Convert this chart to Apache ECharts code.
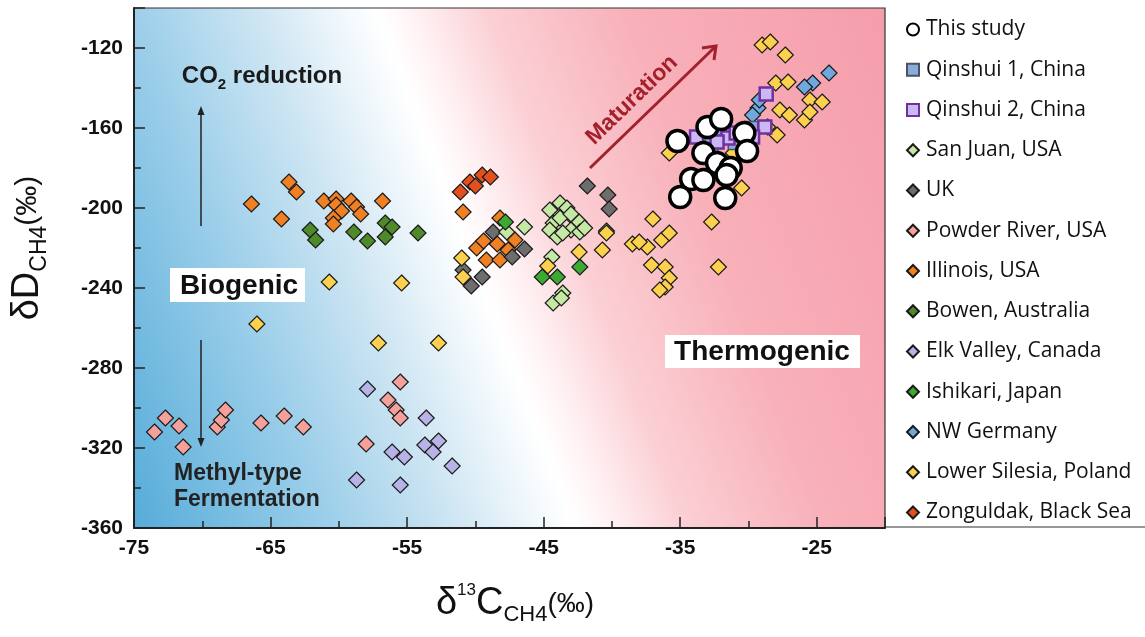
<!DOCTYPE html>
<html><head><meta charset="utf-8">
<script src="https://cdn.jsdelivr.net/npm/echarts@6/dist/echarts.min.js"></script>
<style>html,body{margin:0;padding:0;background:#fff}#c{width:1145px;height:637px}</style>
</head><body><div id="c"></div>
<script>
const xTicks = [-75, -65, -55, -45, -35, -25];
const yTicks = [-360, -320, -280, -240, -200, -160, -120];

const thisStudy = [[-35.2,-166.5],[-33.0,-159.5],[-32.0,-155.5],[-30.3,-162.5],[-30.1,-171.5],[-33.3,-172.5],[-32.3,-177.5],[-31.3,-180],[-31.6,-183.5],[-34.2,-185.5],[-33.3,-186],[-35.0,-194.5],[-31.7,-195]];
const qinshui1 = [[-32.7,-168.5],[-32.1,-163],[-31.0,-167.5],[-29.8,-160]];
const qinshui2 = [[-28.7,-143],[-28.8,-159.5],[-33.8,-164.5],[-31.5,-165],[-29.7,-164.5],[-30.9,-162.5],[-32.3,-167]];
const sanJuan = [[-44.55,-201],[-43.8,-197.5],[-43.3,-200],[-42.9,-204.5],[-42.4,-207],[-44.3,-207.5],[-43.8,-205],[-43.0,-211],[-42.35,-212],[-44.55,-211],[-44.0,-214.5],[-43.6,-212.5],[-46.4,-209.5],[-47.7,-212],[-44.4,-224.5],[-43.6,-242.5],[-44.3,-247.5],[-43.7,-245],[-40.4,-211.5],[-43.0,-203],[-42.0,-210]];
const uk = [[-41.8,-189],[-40.3,-193.5],[-40.2,-200.5],[-48.7,-212],[-50.9,-231],[-49.5,-234.5],[-50.3,-239],[-47.3,-224.5],[-46.4,-220.5]];
const powderRiver = [[-73.5,-312],[-72.7,-305],[-71.7,-309],[-71.4,-319.5],[-68.9,-309.5],[-68.6,-306],[-68.3,-301],[-65.7,-307.5],[-64.0,-304],[-62.6,-309.5],[-58.0,-318],[-56.4,-296],[-55.8,-301],[-55.5,-305],[-55.5,-287]];
const illinois = [[-66.4,-198],[-63.65,-187],[-63.1,-192],[-64.2,-205.5],[-61.1,-196.5],[-60.2,-195.5],[-60.2,-198.5],[-59.8,-201.5],[-60.4,-205],[-60.4,-208],[-59.1,-196.5],[-58.7,-199.5],[-58.4,-203],[-56.8,-196.5],[-50.9,-202],[-49.9,-220],[-49.4,-216.5],[-48.4,-218],[-49.2,-226],[-48.2,-226],[-47.1,-216],[-47.6,-221],[-48.2,-205]];
const bowen = [[-62.1,-211],[-61.7,-216],[-58.9,-212],[-57.9,-216.5],[-56.6,-207.5],[-56.1,-209.5],[-56.6,-214.5],[-54.2,-212.5]];
const elkValley = [[-57.9,-290.5],[-58.7,-336],[-56.1,-322],[-55.2,-324.5],[-55.5,-338.5],[-53.6,-305],[-53.7,-318.5],[-53.1,-322],[-52.7,-316.5],[-51.7,-329]];
const ishikari = [[-47.8,-207],[-45.1,-234.5],[-44.0,-234.5],[-42.35,-229.5]];
const nwGermany = [[-24.1,-132.5],[-25.3,-137.5],[-25.9,-139.5],[-29.3,-150],[-29.7,-153.5],[-29.2,-146]];
const lowerSilesia = [[-66.0,-258],[-60.7,-237],[-57.1,-267.5],[-55.4,-237.5],[-52.7,-267.5],[-51.0,-225],[-50.9,-234.5],[-44.7,-229],[-42.4,-222],[-40.7,-221],[-40.4,-212.5],[-38.5,-218],[-37.4,-219.5],[-37.0,-205.5],[-36.35,-216],[-35.8,-212.5],[-37.1,-228.5],[-36.1,-229.5],[-35.8,-235],[-36.1,-239.5],[-36.5,-241],[-38.0,-217],[-32.7,-207],[-32.2,-229.5],[-30.5,-190],[-31.1,-172.5],[-35.8,-172.5],[-29.0,-118.5],[-28.4,-117],[-27.3,-123.5],[-28.0,-137.5],[-27.1,-137],[-25.5,-146],[-24.6,-147],[-27.7,-151],[-27.0,-153.5],[-25.9,-156],[-25.5,-152],[-28.6,-159.5],[-27.9,-163.5]];
const zonguldak = [[-51.1,-192],[-50.4,-187],[-49.5,-183.5],[-48.9,-184.5],[-50.0,-189]];

const names = ['This study','Qinshui 1, China','Qinshui 2, China','San Juan, USA','UK','Powder River, USA','Illinois, USA','Bowen, Australia','Elk Valley, Canada','Ishikari, Japan','NW Germany','Lower Silesia, Poland','Zonguldak, Black Sea'];

const chart = echarts.init(document.getElementById('c'));
const G = {l:134, t:8, w:751, h:520};
const dia = (name, data, color) => ({
  name, type:'scatter', data, symbol:'diamond', symbolSize:16,
  itemStyle:{color, borderColor:'#1a1a1a', borderWidth:1.2, opacity:1}, z:3
});
const series = [
  dia('Powder River, USA', powderRiver, '#f4a09b'),
  dia('Elk Valley, Canada', elkValley, '#b7b3e6'),
  dia('Illinois, USA', illinois, '#f08024'),
  dia('Bowen, Australia', bowen, '#4f8a2a'),
  dia('Zonguldak, Black Sea', zonguldak, '#e2501e'),
  dia('UK', uk, '#6d6d6d'),
  dia('San Juan, USA', sanJuan, '#c5e8a5'),
  dia('Ishikari, Japan', ishikari, '#3caa32'),
  dia('Lower Silesia, Poland', lowerSilesia, '#fdd14d'),
  dia('NW Germany', nwGermany, '#6fa8dc'),
  {name:'Qinshui 1, China', type:'scatter', data:qinshui1, symbol:'rect', symbolSize:13, z:4,
   itemStyle:{color:'#8eaadb', borderColor:'#44546a', borderWidth:1.5, opacity:1}},
  {name:'Qinshui 2, China', type:'scatter', data:qinshui2, symbol:'rect', symbolSize:13, z:4,
   itemStyle:{color:'#c9b8f2', borderColor:'#7030a0', borderWidth:2.5, opacity:1}},
  {name:'This study', type:'scatter', data:thisStudy, symbol:'circle', symbolSize:21, z:5,
   itemStyle:{color:'#ffffff', borderColor:'#000', borderWidth:3.5, opacity:1}}
];

const grad = new echarts.graphic.LinearGradient(-8, 157, 819, -161, [
  {offset:0, color:'#56acd9'},
  {offset:0.21, color:'#9dcfea'},
  {offset:0.34, color:'#cfe6f3'},
  {offset:0.435, color:'#f5fafd'},
  {offset:0.465, color:'#ffffff'},
  {offset:0.50, color:'#fff3f5'},
  {offset:0.58, color:'#fbd0d5'},
  {offset:0.73, color:'#f8b0b9'},
  {offset:1, color:'#f59dab'}
], true);

const boldF = 'Liberation Sans';
const arrowHead = (x, y, up) => ({type:'polygon', z:10, shape:{points: up ? [[x-3.5,y+9],[x,y],[x+3.5,y+9]] : [[x-3.5,y-9],[x,y],[x+3.5,y-9]]}, style:{fill:'#222'}});

chart.setOption({
  animation:false,
  grid:{left:G.l, top:G.t, width:G.w, height:G.h},
  xAxis:{type:'value', min:-75, max:-20, interval:10,
    axisLine:{onZero:false, lineStyle:{color:'#222', width:2}},
    axisTick:{inside:true, length:11, lineStyle:{color:'#222', width:1.5}},
    minorTick:{show:true, splitNumber:2, length:7, lineStyle:{color:'#222', width:1.5}},
    splitLine:{show:false},
    axisLabel:{showMaxLabel:false, color:'#111', fontFamily:boldF, fontWeight:'bold', fontSize:21, margin:10}
  },
  yAxis:{type:'value', min:-360, max:-100, interval:40,
    axisLine:{onZero:false, lineStyle:{color:'#222', width:2}},
    axisTick:{inside:true, length:11, lineStyle:{color:'#222', width:1.5}},
    minorTick:{show:true, splitNumber:2, length:7, lineStyle:{color:'#222', width:1.5}},
    splitLine:{show:false},
    axisLabel:{showMaxLabel:false, color:'#111', fontFamily:boldF, fontWeight:'bold', fontSize:21, margin:11}
  },
  legend:{orient:'vertical', left:901, top:14, itemWidth:12, itemHeight:12, itemGap:19.25,
    data:names, textStyle:{fontFamily:'Open Sans', fontSize:21, color:'#111', padding:[0,0,0,2]}},
  series,
  graphic:[
    {type:'rect', z:-10, shape:{x:G.l, y:G.t, width:G.w, height:G.h}, style:{fill:grad}},
    {type:'rect', z:-5, shape:{x:G.l, y:G.t, width:G.w, height:G.h}, style:{fill:null, stroke:'#333', lineWidth:1.2}},
    {type:'line', z:-5, shape:{x1:885, y1:527, x2:1145, y2:527}, style:{stroke:'#333', lineWidth:1.2}},
    // CO2 reduction
    {type:'text', z:10, x:262, y:76, style:{text:'{a|CO}{s|2}{a| reduction}', align:'center', verticalAlign:'middle',
      rich:{a:{fontFamily:boldF, fontWeight:'bold', fontSize:24, fill:'#1a1a1a', verticalAlign:'middle', lineHeight:32},
            s:{fontFamily:boldF, fontWeight:'bold', fontSize:15, fill:'#1a1a1a', verticalAlign:'bottom', lineHeight:32}}}},
    {type:'line', z:10, shape:{x1:201, y1:226, x2:201, y2:110}, style:{stroke:'#222', lineWidth:1.5}},
    arrowHead(201, 106, true),
    {type:'line', z:10, shape:{x1:201, y1:340, x2:201, y2:442}, style:{stroke:'#222', lineWidth:1.5}},
    arrowHead(201, 447, false),
    // Biogenic
    {type:'rect', z:10, shape:{x:170, y:268, width:135, height:34}, style:{fill:'#fff'}},
    {type:'text', z:11, x:239, y:286, style:{text:'Biogenic', align:'center', verticalAlign:'middle', fontFamily:boldF, fontWeight:'bold', fontSize:28, fill:'#111'}},
    // Thermogenic
    {type:'rect', z:10, shape:{x:665, y:335, width:195, height:33}, style:{fill:'#fff'}},
    {type:'text', z:11, x:762, y:352, style:{text:'Thermogenic', align:'center', verticalAlign:'middle', fontFamily:boldF, fontWeight:'bold', fontSize:28, fill:'#111'}},
    // Methyl-type Fermentation
    {type:'text', z:11, x:174, y:474, style:{text:'Methyl-type', align:'left', verticalAlign:'middle', fontFamily:boldF, fontWeight:'bold', fontSize:23, fill:'#222'}},
    {type:'text', z:11, x:174, y:500, style:{text:'Fermentation', align:'left', verticalAlign:'middle', fontFamily:boldF, fontWeight:'bold', fontSize:23, fill:'#222'}},
    // Maturation
    {type:'text', z:11, x:632, y:100, rotation:0.77, style:{text:'Maturation', align:'center', verticalAlign:'middle', fontFamily:boldF, fontWeight:'bold', fontSize:23, fill:'#a3202d'}},
    {type:'line', z:11, shape:{x1:590, y1:168, x2:715, y2:47}, style:{stroke:'#a3202d', lineWidth:3}},
    {type:'polyline', z:11, shape:{points:[[702,48],[716,46],[714,60]]}, style:{stroke:'#a3202d', lineWidth:3, fill:null}},
    // axis titles
    {type:'text', z:11, x:515, y:604, style:{text:'{a|δ}{p|13}{a|C}{b|CH4}{c|(‰)}', align:'center', verticalAlign:'middle',
      rich:{a:{fontFamily:'Liberation Sans Narrow, Liberation Sans', fontSize:38, fill:'#111', verticalAlign:'middle', lineHeight:44},
            p:{fontFamily:'Liberation Sans Narrow, Liberation Sans', fontSize:17, fill:'#111', verticalAlign:'top', lineHeight:44},
            b:{fontFamily:'Liberation Sans Narrow, Liberation Sans', fontSize:22, fill:'#111', verticalAlign:'bottom', lineHeight:40},
            c:{fontFamily:'Liberation Sans Narrow, Liberation Sans', fontSize:28, fill:'#111', verticalAlign:'middle', lineHeight:44}}}},
    {type:'text', z:11, x:28, y:248, rotation:Math.PI/2, style:{text:'{a|δD}{b|CH4}{c|(‰)}', align:'center', verticalAlign:'middle',
      rich:{a:{fontFamily:'Liberation Sans', fontSize:38, fill:'#111', verticalAlign:'middle', lineHeight:46},
            b:{fontFamily:'Liberation Sans', fontSize:23, fill:'#111', verticalAlign:'bottom', lineHeight:42},
            c:{fontFamily:'Liberation Sans', fontSize:30, fill:'#111', verticalAlign:'middle', lineHeight:46}}}}
  ]
});
</script></body></html>
